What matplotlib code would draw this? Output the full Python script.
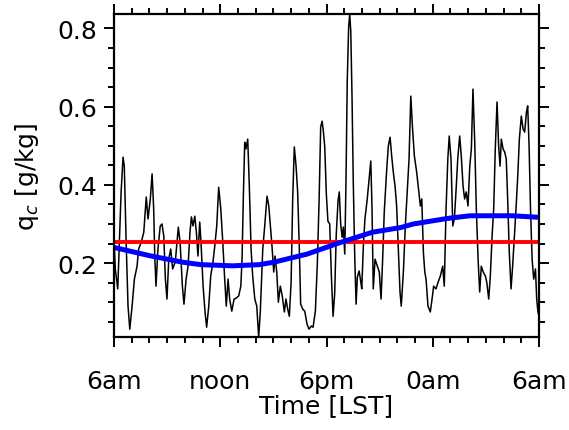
import matplotlib
matplotlib.use("Agg")
from matplotlib import pyplot as plt
from matplotlib.ticker import MultipleLocator
import numpy as np

# hours since 6am (LST) and cloud water q_c [g/kg]
hours = [0.00, 0.07, 0.21, 0.30, 0.40, 0.51, 0.58, 0.68, 0.79, 0.89, 1.02, 1.15,
         1.30, 1.39, 1.54, 1.68, 1.77, 1.82, 1.92, 2.05, 2.15, 2.24, 2.30, 2.37,
         2.48, 2.61, 2.71, 2.81, 2.90, 2.99, 3.09, 3.20, 3.31, 3.46,
         3.54, 3.63, 3.73, 3.86, 3.95, 4.07, 4.18, 4.29, 4.37, 4.46, 4.56, 4.65,
         4.74, 4.84, 4.91, 5.03, 5.14, 5.23, 5.35, 5.46, 5.59, 5.69, 5.80, 5.91,
         6.03, 6.14, 6.25, 6.34, 6.44, 6.53, 6.65, 6.78, 6.89,
         7.04, 7.16, 7.23, 7.30, 7.38, 7.45, 7.55, 7.64, 7.74, 7.83, 7.95, 8.06,
         8.17, 8.26, 8.40, 8.51, 8.64, 8.74, 8.83, 8.92, 9.02, 9.09, 9.19, 9.28,
         9.39, 9.50, 9.62, 9.71, 9.81, 9.90, 10.00, 10.09, 10.18, 10.28, 10.37,
         10.46, 10.54, 10.66, 10.77, 10.90, 11.01, 11.14, 11.24, 11.37, 11.48,
         11.58, 11.67, 11.75, 11.82, 11.90, 11.99, 12.08, 12.18, 12.27, 12.37,
         12.46, 12.55, 12.65, 12.72, 12.80, 12.88, 12.95, 13.03, 13.10, 13.17,
         13.25, 13.31, 13.37, 13.44, 13.51, 13.59, 13.67, 13.74, 13.84, 13.93,
         13.99, 14.08, 14.17, 14.30, 14.42, 14.50, 14.57, 14.64, 14.74, 14.87,
         14.98, 15.08, 15.17, 15.26, 15.40, 15.49, 15.59, 15.68, 15.77, 15.87,
         15.96, 16.05, 16.15, 16.22, 16.34, 16.45, 16.56, 16.66, 16.76, 16.85,
         16.96, 17.09, 17.21, 17.30, 17.38, 17.47,
         17.55, 17.62, 17.73, 17.86, 17.96, 18.05, 18.18, 18.30, 18.43, 18.56,
         18.65, 18.75, 18.85, 18.93, 19.03, 19.13, 19.22, 19.31, 19.41, 19.52,
         19.61, 19.71, 19.80, 19.89, 19.99, 20.09, 20.18, 20.27, 20.37, 20.46,
         20.56, 20.65, 20.74, 20.85, 20.97,
         21.05, 21.16, 21.25, 21.35, 21.44, 21.53, 21.63, 21.72, 21.80, 21.87,
         21.97, 22.06, 22.15, 22.23, 22.32, 22.42, 22.51, 22.60, 22.70, 22.80,
         22.89, 23.00, 23.10, 23.19, 23.29, 23.36, 23.44, 23.52, 23.61, 23.70,
         23.80, 23.87, 23.94, 24.00]
qc = [0.261, 0.185, 0.134, 0.254, 0.382, 0.471, 0.448, 0.261, 0.090, 0.031, 0.090, 0.159,
      0.192, 0.236, 0.254, 0.279, 0.338, 0.369, 0.313, 0.364, 0.428, 0.338, 0.218, 0.141,
      0.236, 0.295, 0.300, 0.269, 0.159, 0.108, 0.210, 0.236, 0.185, 0.203,
      0.244, 0.292, 0.254, 0.141, 0.095, 0.159, 0.192, 0.279, 0.318, 0.295, 0.320, 0.279,
      0.218, 0.305, 0.254, 0.141, 0.075, 0.036, 0.090, 0.167, 0.203, 0.244, 0.295, 0.394,
      0.338, 0.254, 0.159, 0.090, 0.159, 0.108, 0.077, 0.108, 0.110,
      0.116, 0.141, 0.210, 0.364, 0.509, 0.492, 0.517, 0.397, 0.236, 0.167, 0.108, 0.090,
      0.011, 0.075, 0.236, 0.295, 0.371, 0.346, 0.295, 0.244, 0.177, 0.218, 0.177, 0.100,
      0.141, 0.116, 0.075, 0.108, 0.082, 0.064, 0.151, 0.364, 0.497, 0.448, 0.382,
      0.244, 0.095, 0.082, 0.077, 0.044, 0.031, 0.039, 0.036, 0.077, 0.197,
      0.359, 0.548, 0.563, 0.538, 0.497, 0.376, 0.307, 0.300, 0.172, 0.064,
      0.121, 0.274, 0.359, 0.382, 0.300, 0.266, 0.292, 0.223, 0.410, 0.665,
      0.804, 0.837, 0.793, 0.625, 0.410, 0.223, 0.095, 0.164, 0.180, 0.154,
      0.134, 0.244, 0.313, 0.364, 0.423, 0.461, 0.338, 0.134, 0.210, 0.192,
      0.177, 0.108, 0.210, 0.330, 0.440, 0.499, 0.522, 0.474, 0.433, 0.397,
      0.346, 0.244, 0.126, 0.090, 0.177, 0.295, 0.382, 0.466, 0.627, 0.550,
      0.474, 0.433, 0.382, 0.346, 0.364, 0.228,
      0.177, 0.159, 0.090, 0.075, 0.108, 0.141, 0.134, 0.151, 0.167, 0.192,
      0.141, 0.338, 0.466, 0.525, 0.466, 0.295, 0.313, 0.382, 0.466, 0.525,
      0.474, 0.397, 0.364, 0.382, 0.346, 0.448, 0.492, 0.645, 0.509, 0.338,
      0.210, 0.126, 0.192, 0.177, 0.167,
      0.151, 0.108, 0.167, 0.269, 0.338, 0.492, 0.612, 0.499, 0.448, 0.517,
      0.492, 0.484, 0.466, 0.364, 0.228, 0.134, 0.192, 0.261, 0.338, 0.423,
      0.517, 0.576, 0.543, 0.535, 0.586, 0.602, 0.499, 0.338, 0.210, 0.159,
      0.185, 0.108, 0.075, 0.065]

# smooth diurnal fit (blue) and mean (red)
fit_hours = [0.0, 2.0, 3.9, 4.9, 6.7, 8.2, 9.0, 10.9, 12.8, 14.6, 16.2, 16.9,
             18.8, 20.1, 22.5, 24.0]
fit_qc = [0.240, 0.219, 0.202, 0.196, 0.193, 0.196, 0.202, 0.223, 0.253, 0.279,
          0.291, 0.300, 0.314, 0.321, 0.321, 0.317]
mean_qc = 0.255

tick_hours = [0, 6, 12, 18, 24]
tick_labels = ["6am", "noon", "6pm", "0am", "6am"]


def main():
    plt.rcParams["font.family"] = "DejaVu Sans"
    fig = plt.figure(figsize=(5.69, 4.31), dpi=100)
    ax = fig.add_axes([0.2004, 0.2158, 0.7469, 0.7494])

    ax.plot(hours, qc, color="black", lw=1.1)
    ax.axhline(mean_qc, color="#ff0000", lw=2.8)
    ax.plot(fit_hours, fit_qc, color="#0000ff", lw=3.6)

    ax.set_xlim(0, 24)
    ax.set_ylim(min(qc), max(qc))
    ax.set_xticks(tick_hours)
    ax.set_xticklabels(tick_labels)
    ax.xaxis.set_minor_locator(MultipleLocator(1))
    ax.set_yticks([0.2, 0.4, 0.6, 0.8])
    ax.yaxis.set_minor_locator(MultipleLocator(0.05))

    ax.tick_params(which="both", direction="out", top=True, right=True,
                   width=1.4, labelsize=18, colors="black")
    ax.tick_params(which="major", length=7)
    ax.tick_params(axis="x", which="major", pad=16)
    ax.tick_params(axis="y", which="major", pad=5)
    ax.tick_params(which="minor", length=4)
    for s in ax.spines.values():
        s.set_linewidth(1.6)

    ax.set_xlabel("Time [LST]", fontsize=18, labelpad=0)
    ax.set_ylabel("q$_c$ [g/kg]", fontsize=18, labelpad=12)

    fig.savefig("out.png", dpi=100)


if __name__ == '__main__':
    main()
